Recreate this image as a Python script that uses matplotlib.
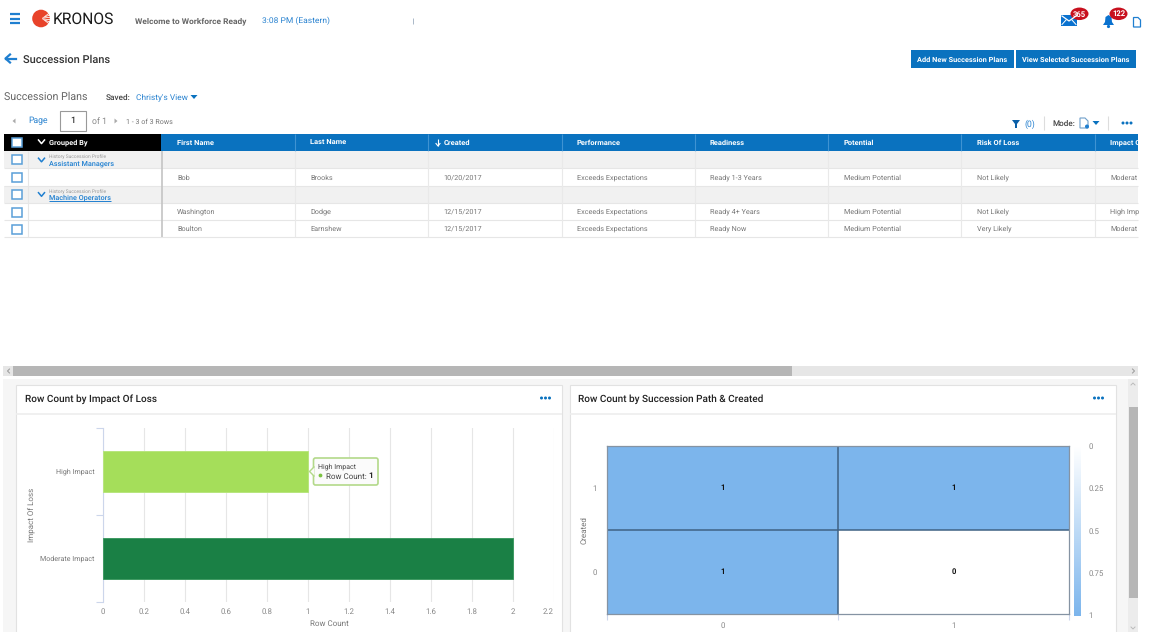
import math
import matplotlib
matplotlib.use("Agg")
import matplotlib.pyplot as plt
from matplotlib.patches import Rectangle, Circle, Ellipse, Polygon, FancyBboxPatch
from matplotlib.colors import LinearSegmentedColormap, Normalize
from matplotlib.cm import ScalarMappable

plt.rcParams['font.family'] = ['Roboto', 'DejaVu Sans']
plt.rcParams['text.hinting'] = 'no_hinting'
plt.rcParams['text.hinting_factor'] = 8

# ---- data ----
impact_labels = ["High Impact", "Moderate Impact"]
impact_counts = [1, 2]
impact_xticks = [0, 0.2, 0.4, 0.6, 0.8, 1, 1.2, 1.4, 1.6, 1.8, 2, 2.2]
heat_x = ["0", "1"]
heat_y = ["0", "1"]
heat_values = [[1, 0], [1, 1]]
heat_cbar_ticks = [0, 0.25, 0.5, 0.75, 1]
column_names = ["First Name", "Last Name", "Created", "Performance", "Readiness",
                "Potential", "Risk Of Loss", "Impact O"]
row_bob = ["Bob", "Brooks", "10/20/2017", "Exceeds Expectations", "Ready 1-3 Years",
           "Medium Potential", "Not Likely", "Moderat"]
row_washington = ["Washington", "Dodge", "12/15/2017", "Exceeds Expectations", "Ready 4+ Years",
                  "Medium Potential", "Not Likely", "High Imp"]
row_boulton = ["Boulton", "Earnshew", "12/15/2017", "Exceeds Expectations", "Ready Now",
               "Medium Potential", "Very Likely", "Moderat"]

W, H = 1150, 632
fig = plt.figure(figsize=(W / 100, H / 100), dpi=100, facecolor='white')


def px(v):
    return v * 0.72


def overlay(z):
    a = fig.add_axes([0, 0, 1, 1], zorder=z)
    a.set_xlim(0, W)
    a.set_ylim(H, 0)
    a.axis('off')
    a.patch.set_alpha(0)
    return a


bg = overlay(0)
BLUE = '#0a72bf'
LINK = '#2a83d0'
GREY = '#777777'


def T(a, x, y, s, size=8, color='#666666', weight='normal', ha='left', va='center', **k):
    if va == 'center' and 'rotation' not in k:
        y = math.floor(y + 0.33 * size) + 0.495
        va = 'baseline'
    return a.text(x, y, s, fontsize=px(size), color=color, fontweight=weight, ha=ha, va=va, **k)


def R(a, x0, y0, x1, y1, **k):
    k.setdefault('linewidth', 0)
    p = Rectangle((x0, y0), x1 - x0, y1 - y0, **k)
    a.add_patch(p)
    return p


def L(a, xs, ys, color='#dddddd', lw=0.8, **k):
    a.plot(xs, ys, color=color, lw=lw, solid_capstyle='butt', **k)


def tri(a, x, y, w, h, color, direction='down'):
    if direction == 'down':
        pts = [(x - w / 2, y - h / 2), (x + w / 2, y - h / 2), (x, y + h / 2)]
    elif direction == 'left':
        pts = [(x + w / 2, y - h / 2), (x + w / 2, y + h / 2), (x - w / 2, y)]
    else:
        pts = [(x - w / 2, y - h / 2), (x - w / 2, y + h / 2), (x + w / 2, y)]
    a.add_patch(Polygon(pts, closed=True, facecolor=color, edgecolor='none'))


def chevron(a, x, y, color, w=3, h=1.8):
    a.plot([x - w, x, x + w], [y - h, y + h, y - h], color=color, lw=1.1)


def dots(a, x, y, color=BLUE):
    for dx in (-4, 0, 4):
        a.add_patch(Circle((x + dx, y), 1.5, facecolor=color, edgecolor='none'))


# ---- top bar ----
for y in (14, 18.7, 23.3):
    L(bg, [10, 20], [y, y], color='#1f7fd0', lw=1.6)
bg.add_patch(Circle((41, 18.5), 8.8, facecolor='#e8432a', edgecolor='none'))
for dy in (-6, -3.6, -1.2, 1.2, 3.6, 6):
    L(bg, [41.5 + abs(dy) * 0.5, 50], [18.5 + dy * 0.3, 18.5 + dy], color='white', lw=0.55)
T(bg, 52.5, 18.5, "KRONOS", size=15.6, color='#1a1a1a')
T(bg, 135, 20.5, "Welcome to Workforce Ready", size=8.35, color='#666666', weight='bold')
T(bg, 262, 20.5, "3:08 PM (Eastern)", size=8.5, color=LINK)
L(bg, [413, 413], [18, 24], color='#aab8c8', lw=0.7)

R(bg, 1061, 14.5, 1077, 25.5, facecolor='#0a72cf')
bg.plot([1062, 1069, 1076], [16, 21, 16], color='white', lw=0.9)
bg.plot([1062, 1066], [24.5, 20], color='white', lw=0.7)
bg.plot([1076, 1072], [24.5, 20], color='white', lw=0.7)
bg.add_patch(Ellipse((1079.5, 13.8), 18, 12.5, facecolor='#c8101e', edgecolor='none'))
T(bg, 1079.5, 14, "365", size=7.6, color='white', weight='bold', ha='center')
bg.add_patch(Polygon([(1103, 25), (1105, 22), (1105.5, 17), (1108.5, 15), (1111.5, 17),
                      (1112, 22), (1114, 25)], closed=True, facecolor='#0a72cf', edgecolor='none'))
bg.add_patch(Circle((1108.5, 26.5), 1.6, facecolor='#0a72cf', edgecolor='none'))
bg.add_patch(Ellipse((1118.5, 13.8), 18, 12.5, facecolor='#c8101e', edgecolor='none'))
T(bg, 1118.5, 14, "122", size=7.6, color='white', weight='bold', ha='center')
bg.add_patch(Polygon([(1133.5, 17.5), (1138, 17.5), (1140.5, 20), (1140.5, 27), (1133.5, 27)],
                     closed=True, facecolor='white', edgecolor='#1f7fd0', linewidth=0.9))

# ---- title row ----
bg.plot([6, 16], [58.5, 58.5], color='#1f7fd0', lw=1.6)
bg.plot([10, 5.5, 10], [54.5, 58.5, 62.5], color='#1f7fd0', lw=1.6)
T(bg, 23, 58.5, "Succession Plans", size=11, color='#333333', weight='medium')
R(bg, 911, 49.5, 1014, 68, facecolor=BLUE)
R(bg, 1015.5, 49.5, 1135.7, 68, facecolor=BLUE)
T(bg, 962.5, 59, "Add New Succession Plans", size=7.35, color='white', weight='bold', ha='center')
T(bg, 1075.5, 59, "View Selected Succession Plans", size=7.35, color='white', weight='bold', ha='center')

T(bg, 3.5, 96.5, "Succession Plans", size=10.6, color='#666666')
T(bg, 105.5, 97, "Saved:", size=8.3, color='#444444', weight='medium')
T(bg, 136, 97, "Christy's View", size=8.4, color=LINK)
tri(bg, 194, 97, 7, 4, BLUE)

# ---- pager and tools ----
tri(bg, 14, 121, 3, 5, '#aaaaaa', 'left')
T(bg, 28.5, 121, "Page", size=8.6, color=LINK)
R(bg, 59.5, 110.5, 86, 130.5, facecolor='white', edgecolor='#999999', linewidth=0.8)
T(bg, 72.5, 121, "1", size=8.8, color='#333333', ha='center', weight='medium')
T(bg, 92, 121, "of 1", size=8.6, color='#888888')
tri(bg, 116, 121, 3, 5, '#aaaaaa', 'right')
T(bg, 126, 121, "1 - 3 of 3 Rows", size=7.2, color='#777777')

bg.add_patch(Polygon([(1012, 120), (1020, 120), (1017, 124), (1017, 128), (1015, 128), (1015, 124)],
                     closed=True, facecolor='#0a5fa8', edgecolor='none'))
T(bg, 1024, 124, "(0)", size=8.6, color=LINK)
L(bg, [1044, 1044], [116, 130], color='#dddddd')
T(bg, 1052, 123, "Mode:", size=8.2, color='#444444', weight='medium')
bg.add_patch(Polygon([(1080, 118), (1085, 118), (1088, 121), (1088, 128), (1080, 128)],
                     closed=True, facecolor='white', edgecolor='#6f9fca', linewidth=0.8))
bg.add_patch(Circle((1087, 126.5), 2, facecolor='#1f7fd0', edgecolor='none'))
tri(bg, 1096, 123, 7, 4, BLUE)
L(bg, [1108, 1108], [116, 130], color='#dddddd')
dots(bg, 1127, 123, BLUE)

# ---- grid ----
col_edges = [161, 294.5, 428, 561.5, 694.7, 828, 961, 1094.5]
text_x = [177, 310, 443.5, 577, 710, 844, 977, 1110]
row_edges = [151, 168, 185.5, 203, 220, 237]
R(bg, 161, 134, 1138, 151, facecolor=BLUE)
R(bg, 3.5, 134, 161, 151, facecolor='black')
R(bg, 3.5, 151, 1138, 168, facecolor='#f1f1f1')
R(bg, 3.5, 185.5, 1138, 203, facecolor='#f1f1f1')
for y in row_edges[1:]:
    L(bg, [3.5, 1138], [y, y], color='#e6e6e6')
for x in col_edges[1:]:
    L(bg, [x, x], [134, 151], color='#3f93d2')
    L(bg, [x, x], [151, 237], color='#e9e9e9')
L(bg, [28, 28], [151, 237], color='#e6e6e6')
L(bg, [161.5, 161.5], [151, 237], color='#c4c4c4', lw=1.2)

for i, name in enumerate(column_names):
    tx = text_x[i] + (0.5 if name == "Created" else 0)
    T(bg, tx, 141.8, name, size=7.5, color='white', weight='bold')
L(bg, [438, 438], [139, 145.5], color='white', lw=0.8)
bg.plot([436, 438, 440], [143.5, 146, 143.5], color='white', lw=0.8)
for row, y in zip((row_bob, row_washington, row_boulton), (176.6, 211, 228)):
    for x, s in zip(text_x, row):
        T(bg, x, y, s, size=7.3, color=GREY)

for y in (142.5, 159.5, 177, 194.5, 212, 229):
    R(bg, 11.5, y - 4.5, 21.5, y + 4.5, facecolor='white', edgecolor='#5a9fd8', linewidth=1.1)
chevron(bg, 41.5, 141.8, 'white')
T(bg, 49, 142.3, "Grouped By", size=7.4, color='white', weight='bold')
for y, name in ((160, "Assistant Managers"), (194.5, "Machine Operators")):
    chevron(bg, 41.5, y, '#1f7fd0')
    T(bg, 49, y - 4, "History Succession Profile", size=4.9, color='#999999')
    T(bg, 49, y + 2.8, name, size=7.3, color='#1f7fd0', weight='medium')
L(bg, [49, 111], [200.5, 200.5], color='#1f7fd0', lw=0.7)

# ---- scrollbars and panels ----
R(bg, 3, 366, 1138, 376, facecolor='#e6e6e6')
R(bg, 13, 366, 791.5, 376, facecolor='#b6b6b6')
bg.plot([9.5, 7.5, 9.5], [369, 371, 373], color='#999999', lw=0.7)
bg.plot([1132.5, 1134.5, 1132.5], [369, 371, 373], color='#999999', lw=0.7)
R(bg, 3, 379, 1128, 632, facecolor='#f6f6f6')
R(bg, 1128, 379, 1138, 632, facecolor='#ececec')
R(bg, 1128.5, 407, 1138, 598, facecolor='#b6b6b6')
bg.plot([1131, 1133, 1135], [385, 383, 385], color='#bbbbbb', lw=0.7)
bg.plot([1131, 1133, 1135], [627, 629, 627], color='#bbbbbb', lw=0.7)

for x0, x1, title, dx in ((16, 562, "Row Count by Impact Of Loss", 545.5),
                          (569.5, 1115.5, "Row Count by Succession Path & Created", 1098.5)):
    R(bg, x0, 385, x1, 640, facecolor='white', edgecolor='#e2e2e2', linewidth=0.8)
    L(bg, [x0, x1], [413.5, 413.5], color='#eeeeee', lw=1.2)
    T(bg, x0 + 8.7, 398.5, title, size=10, color='#222222', weight='medium')
    dots(bg, dx, 398, BLUE)


def chart_axes(x0, y0, x1, y1):
    return fig.add_axes([x0 / W, 1 - y1 / H, (x1 - x0) / W, (y1 - y0) / H], zorder=2)


# ---- bar chart ----
ax = chart_axes(103, 428, 554, 602)
ax.patch.set_alpha(0)
ypos = list(range(len(impact_labels)))
ax.barh(ypos, impact_counts, height=0.48, color=['#a5de5a', '#1a8045'],
        edgecolor=['#b8e57e', '#3f9a63'], linewidth=0.7, zorder=3)
ax.set_xlim(0, 2.2)
ax.set_ylim(1.5, -0.5)
ax.set_xticks(impact_xticks)
labels = ax.set_xticklabels([f"{v:g}" for v in impact_xticks], fontsize=px(7.9), color='#888888')
labels[-1].set_ha('right')
ax.tick_params(axis='x', length=0, pad=4.5)
ax.grid(axis='x', color='#e6e6e6', lw=0.8, zorder=0)
ax.set_yticks([-0.5, 0.5, 1.5])
ax.set_yticklabels([])
ax.tick_params(axis='y', length=5, width=0.8, color='#ccd6eb')
for s in ('top', 'right', 'bottom'):
    ax.spines[s].set_visible(False)
ax.spines['left'].set_color('#ccd6eb')
ax.spines['left'].set_linewidth(0.8)
for y, s in zip(ypos, impact_labels):
    ax.annotate(s, xy=(0, y), xycoords=('data', 'data'), xytext=(-6, 0), textcoords='offset points',
                ha='right', va='center', fontsize=px(7.15), color='#777777')
T(bg, 329, 622.5, "Row Count", size=8, color='#777777', ha='center', zorder=5)
T(bg, 31, 515, "Impact Of Loss", size=8, color='#777777', ha='center', rotation=90)

# ---- heat map ----
cmap = LinearSegmentedColormap.from_list('heat', ['#ffffff', '#7cb5ec'])
norm = Normalize(0, 1)
hx = chart_axes(607, 446, 1069, 614)
hx.pcolormesh(heat_values, cmap=cmap, norm=norm, edgecolors='none')
hx.axhline(1, color='#3f6284', lw=1.1)
hx.axvline(1, color='#3f6284', lw=1.1)
for r, row in enumerate(heat_values):
    for c, v in enumerate(row):
        hx.text(c + 0.5, r + 0.5, str(v), ha='center', va='center', fontsize=px(7.6),
                color='#111111', fontweight='bold')
hx.set_xlim(0, 2)
hx.set_ylim(0, 2)
hx.set_xticks([0, 1, 2])
hx.set_xticklabels([])
hx.set_xticks([0.5, 1.5], minor=True)
hx.set_xticklabels(heat_x, minor=True, fontsize=px(7.9), color='#888888')
hx.tick_params(axis='x', which='major', length=4, width=0.8, color='#ccd6eb')
hx.tick_params(axis='x', which='minor', length=0, pad=5.5)
hx.set_yticks([0.5, 1.5])
hx.set_yticklabels(heat_y, fontsize=px(7.9), color='#888888')
hx.tick_params(axis='y', length=0, pad=7.5)
for s in hx.spines.values():
    s.set_color('#8593a3')
    s.set_linewidth(0.9)
T(bg, 584, 530, "Created", size=8, color='#777777', ha='center', rotation=90)

cax = chart_axes(1073.5, 446, 1080.5, 615.5)
cb = fig.colorbar(ScalarMappable(norm=norm, cmap=cmap), cax=cax, ticks=heat_cbar_ticks)
cax.invert_yaxis()
cb.outline.set_visible(False)
cb.ax.set_yticklabels([f"{v:g}" for v in heat_cbar_ticks], fontsize=px(7.9), color='#888888')
cb.ax.tick_params(length=0, pad=6)

# ---- tooltip ----
top = overlay(5)
top.add_patch(FancyBboxPatch((313.5, 458), 64.5, 27, boxstyle='round,pad=0,rounding_size=2',
                             facecolor='#fbfbfb', edgecolor='#b3d98a', linewidth=1.2))
top.add_patch(Polygon([(314, 467), (309.5, 471.5), (314, 476)], closed=True,
                      facecolor='#fbfbfb', edgecolor='none', zorder=3))
top.plot([314, 309.5, 314], [467, 471.5, 476], color='#b3d98a', lw=1.0, zorder=3)
T(top, 317.5, 466.6, "High Impact", size=7, color='#444444')
top.add_patch(Circle((320.5, 475.5), 1.9, facecolor='#7cc242', edgecolor='none'))
T(top, 325.5, 475.5, "Row Count:", size=8, color='#444444')
T(top, 368.5, 475.5, "1", size=8.2, color='#222222', weight='bold')

fig.savefig('out.png', dpi=100, facecolor='white')
